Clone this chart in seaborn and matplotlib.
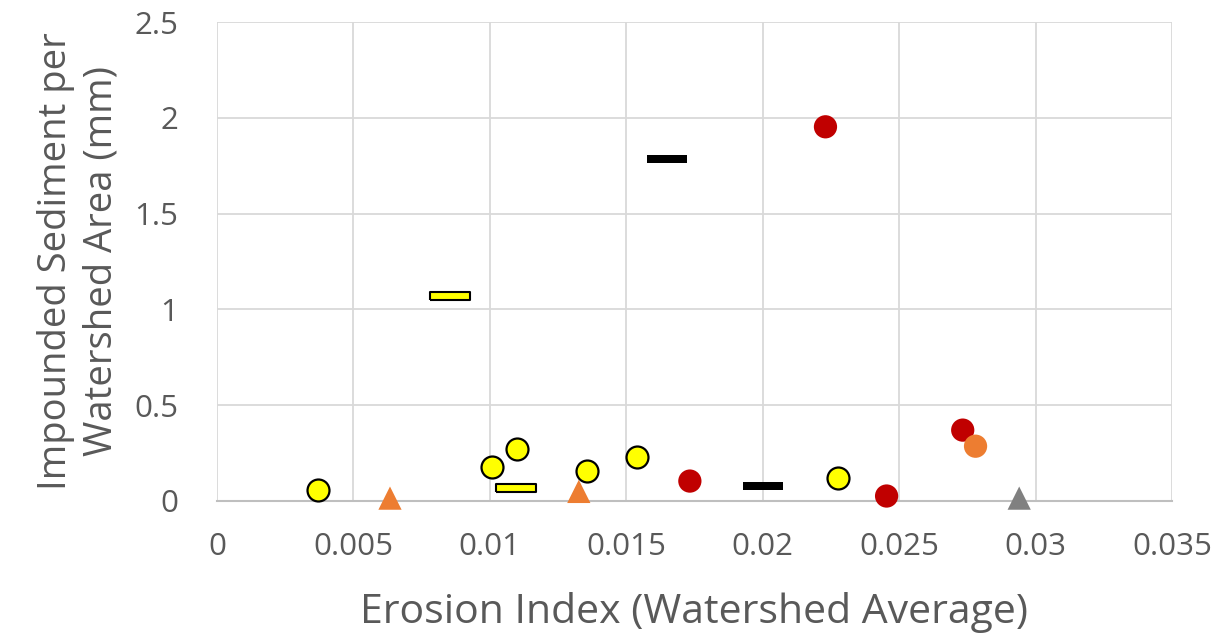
import matplotlib
matplotlib.use("Agg")
import matplotlib.pyplot as plt
import seaborn as sns
import pandas as pd

# Data
yc_x = [0.0037, 0.01007, 0.0110, 0.01355, 0.0154, 0.02275]
yc_y = [0.06, 0.177, 0.27, 0.156, 0.229, 0.12]
ot_x = [0.00634, 0.01326]
ot_y = [0.015, 0.05]
gt_x = [0.0294]
gt_y = [0.015]
yd_x = [0.00853, 0.01095]
yd_y = [1.068, 0.068]
bd_x = [0.01648, 0.0200]
bd_y = [1.786, 0.078]
rc_x = [0.0223, 0.01733, 0.02454, 0.02733]
rc_y = [1.953, 0.104, 0.026, 0.37]
oc_x = [0.0278]
oc_y = [0.286]

xticks = [0, 0.005, 0.01, 0.015, 0.02, 0.025, 0.03, 0.035]
xtick_labels = ["0", "0.005", "0.01", "0.015", "0.02", "0.025", "0.03", "0.035"]
yticks = [0, 0.5, 1, 1.5, 2, 2.5]
ytick_labels = ["0", "0.5", "1", "1.5", "2", "2.5"]

sns.set_theme(style="white")
plt.rcParams['font.family'] = ['Open Sans', 'DejaVu Sans']

fig = plt.figure(figsize=(12.18, 6.35), dpi=100)
ax = fig.add_axes([217/1218, (635-501)/635, (1172-217)/1218, (501-22)/635])

dash = [(-1, -0.2), (1, -0.2), (1, 0.2), (-1, 0.2), (-1, -0.2)]

def sc(x, y, marker, color, s, ec="none", lw=0):
    df = pd.DataFrame({"x": x, "y": y})
    sns.scatterplot(data=df, x="x", y="y", marker=marker, color=color, s=s,
                    edgecolor=ec, linewidth=lw, ax=ax, zorder=3, clip_on=False)

sc(yc_x, yc_y, "o", "#FFFF00", 250, "black", 1.6)
sc(ot_x, ot_y, "^", "#ED7D31", 280)
sc(gt_x, gt_y, "^", "#808080", 280)
sc(yd_x, yd_y, dash, "#FFFF00", 840, "black", 1.5)
sc(bd_x, bd_y, dash, "black", 840)
sc(rc_x, rc_y, "o", "#C00000", 280)
sc(oc_x, oc_y, "o", "#ED7D31", 280)

ax.set_xlim(0, 0.035)
ax.set_ylim(0, 2.5)
ax.set_xticks(xticks)
ax.set_xticklabels(xtick_labels)
ax.set_yticks(yticks)
ax.set_yticklabels(ytick_labels)
ax.grid(True, color="#D9D9D9", linewidth=1.3)
ax.set_axisbelow(True)
for side in ["left", "top", "right"]:
    ax.spines[side].set_visible(False)
ax.spines["bottom"].set_color("#BFBFBF")
ax.spines["bottom"].set_linewidth(1.5)
ax.tick_params(axis="both", length=0, labelsize=22.5, colors="#595959")
ax.tick_params(axis="x", pad=22)
ax.tick_params(axis="y", pad=28)
ax.set_xlabel("Erosion Index (Watershed Average)", fontsize=29.5, color="#595959", labelpad=22)
ax.set_ylabel("Impounded Sediment per\nWatershed Area (mm)", fontsize=27.5, color="#595959",
              labelpad=10, linespacing=1.25)

fig.savefig("out.png", dpi=100)
